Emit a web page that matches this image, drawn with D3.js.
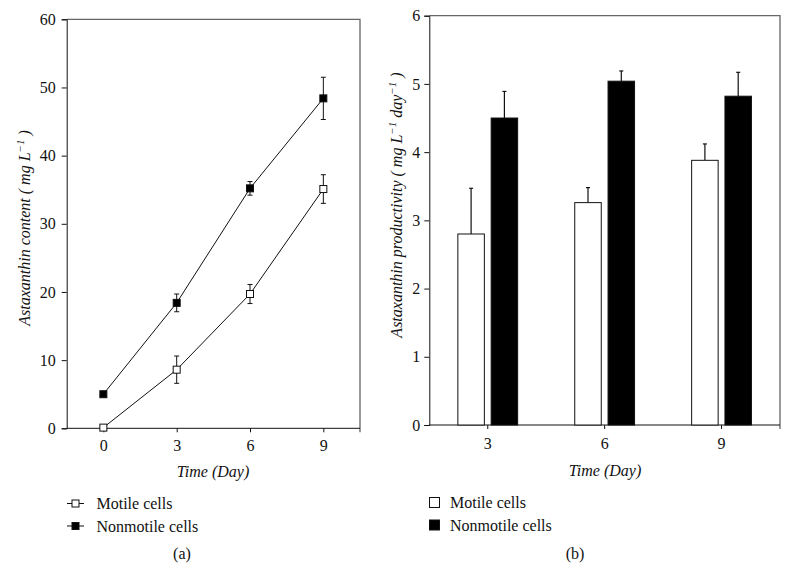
<!DOCTYPE html>
<html><head><meta charset="utf-8">
<script src="https://cdn.jsdelivr.net/npm/d3@7"></script>
<style>body{margin:0;background:#fff}svg{display:block}text{font-family:"Liberation Serif","Times New Roman",serif;fill:#111}</style>
</head><body>
<svg id="c" width="791" height="586"></svg>
<script>
// Panel (a) data
const daysA = [0, 3, 6, 9];
const motileContent = [0.1, 8.6, 19.7, 35.1];
const motileContentErr = [0.2, 2.0, 1.4, 2.1];
const nonmotileContent = [5.0, 18.4, 35.2, 48.4];
const nonmotileContentErr = [0.2, 1.3, 1.0, 3.1];
const yTicksA = [0, 10, 20, 30, 40, 50, 60];
// Panel (b) data
const daysB = ["3", "6", "9"];
const motileProd = [2.80, 3.26, 3.88];
const motileProdErr = [0.67, 0.22, 0.24];
const nonmotileProd = [4.50, 5.04, 4.82];
const nonmotileProdErr = [0.39, 0.15, 0.35];
const yTicksB = [0, 1, 2, 3, 4, 5, 6];
const seriesNames = ["Motile cells", "Nonmotile cells"];

const svg = d3.select("#c");
const FS = 16;

function yTitle(g, x, y, main, parts) {
  const t = g.append("text").attr("transform", `translate(${x},${y}) rotate(-90)`)
    .attr("text-anchor", "middle").attr("font-style", "italic").attr("font-size", FS);
  t.append("tspan").text(main);
  parts.forEach(p => {
    const s = t.append("tspan").text(p.t);
    if (p.sup) s.attr("font-size", 11).attr("dy", -6); else if (p.dn) s.attr("dy", 6);
  });
}
function styleAxis(a) {
  a.attr("font-family", null).attr("font-size", null);
  a.selectAll("text").attr("font-size", FS).attr("fill", "#111");
  a.selectAll("path,line").attr("stroke", "#111");
}

// ---------- Panel (a) ----------
{
  const L = 66.7, R = 360, T = 19.3, B = 428.3;
  const x = d3.scaleLinear().domain([-1.5, 10.5]).range([L, R]);
  const y = d3.scaleLinear().domain([0, 60]).range([B, T]);
  const g = svg.append("g");
  g.append("path").attr("d", `M${L},${T}H${R}V${B + 4}`).attr("fill", "none").attr("stroke", "#666").attr("stroke-width", 1.3);
  const ya = g.append("g").attr("transform", `translate(${L},0)`)
    .call(d3.axisLeft(y).tickValues(yTicksA).tickFormat(d3.format("d")).tickSize(5).tickPadding(6));
  const xa = g.append("g").attr("transform", `translate(0,${B})`)
    .call(d3.axisBottom(x).tickValues(daysA).tickFormat(d3.format("d")).tickSize(4).tickPadding(7));
  styleAxis(ya); styleAxis(xa);
  xa.select(".domain").attr("d", `M${L},0H${R}`);

  const series = [
    {v: motileContent, e: motileContentErr, fill: "#fff"},
    {v: nonmotileContent, e: nonmotileContentErr, fill: "#000"}
  ];
  const line = d3.line().x((d, i) => x(daysA[i])).y(d => y(d));
  series.forEach(s => {
    g.append("path").attr("d", line(s.v)).attr("fill", "none").attr("stroke", "#111").attr("stroke-width", 1);
    s.v.forEach((v, i) => {
      const cx = x(daysA[i]);
      if (s.e[i] > 0.5) {
        g.append("line").attr("x1", cx).attr("x2", cx).attr("y1", y(v + s.e[i])).attr("y2", y(v - s.e[i])).attr("stroke", "#111");
        [v + s.e[i], v - s.e[i]].forEach(w => g.append("line").attr("x1", cx - 2.5).attr("x2", cx + 2.5).attr("y1", y(w)).attr("y2", y(w)).attr("stroke", "#111"));
      }
      g.append("rect").attr("x", cx - 3.5).attr("y", y(v) - 3.5).attr("width", 7).attr("height", 7)
        .attr("fill", s.fill).attr("stroke", "#111").attr("stroke-width", 1);
    });
  });
  yTitle(g, 29.5, 228, "Astaxanthin content ( mg L", [{t: "−1", sup: true}, {t: " )", dn: true}]);
  g.append("text").attr("x", 213).attr("y", 477).attr("text-anchor", "middle").attr("font-style", "italic").attr("font-size", FS).text("Time (Day)");
  seriesNames.forEach((n, i) => {
    const ly = 503.5 + i * 22.5;
    g.append("line").attr("x1", 67).attr("x2", 84).attr("y1", ly).attr("y2", ly).attr("stroke", "#111");
    g.append("rect").attr("x", 72).attr("y", ly - 3.5).attr("width", 7).attr("height", 7).attr("fill", series[i].fill).attr("stroke", "#111");
    g.append("text").attr("x", 96.5).attr("y", ly + 5.5).attr("font-size", FS).text(n);
  });
  g.append("text").attr("x", 182).attr("y", 558.5).attr("text-anchor", "middle").attr("font-size", FS).text("(a)");
}

// ---------- Panel (b) ----------
{
  const L = 429.3, R = 780, T = 15.7, B = 425;
  const x = d3.scaleBand().domain(daysB).range([L, R]).padding(0);
  const y = d3.scaleLinear().domain([0, 6]).range([B, T]);
  const g = svg.append("g");
  g.append("path").attr("d", `M${L},${T}H${R}V${B + 4}`).attr("fill", "none").attr("stroke", "#666").attr("stroke-width", 1.3);
  const ya = g.append("g").attr("transform", `translate(${L},0)`)
    .call(d3.axisLeft(y).tickValues(yTicksB).tickFormat(d3.format("d")).tickSize(5).tickPadding(4));
  const xa = g.append("g").attr("transform", `translate(0,${B})`)
    .call(d3.axisBottom(x).tickSize(4).tickPadding(9));
  styleAxis(ya); styleAxis(xa);
  xa.select(".domain").attr("d", `M${L},0H${R}`);
  const bw = 26.5, gap = 3.4;
  const groups = [
    {v: motileProd, e: motileProdErr, fill: "#fff", off: -gap - bw},
    {v: nonmotileProd, e: nonmotileProdErr, fill: "#000", off: gap}
  ];
  groups.forEach(s => {
    daysB.forEach((d, i) => {
      const bx = x(d) + x.bandwidth() / 2 + s.off;
      const v = s.v[i], cx = bx + bw / 2;
      g.append("line").attr("x1", cx).attr("x2", cx).attr("y1", y(v)).attr("y2", y(v + s.e[i])).attr("stroke", "#111").attr("stroke-width", 1.2);
      g.append("line").attr("x1", cx - 2).attr("x2", cx + 2).attr("y1", y(v + s.e[i])).attr("y2", y(v + s.e[i])).attr("stroke", "#111").attr("stroke-width", 1.2);
      g.append("rect").attr("x", bx).attr("y", y(v)).attr("width", bw).attr("height", y(0) - y(v))
        .attr("fill", s.fill).attr("stroke", "#111").attr("stroke-width", 1);
    });
  });
  yTitle(g, 402, 205, "Astaxanthin productivity ( mg L", [{t: "−1", sup: true}, {t: "  day", dn: true}, {t: "−1", sup: true}, {t: " )", dn: true}]);
  g.append("text").attr("x", 605).attr("y", 476).attr("text-anchor", "middle").attr("font-style", "italic").attr("font-size", FS).text("Time (Day)");
  seriesNames.forEach((n, i) => {
    const ly = 502.5 + i * 22.5;
    g.append("rect").attr("x", 429.5).attr("y", ly - 5).attr("width", 10).attr("height", 10).attr("fill", groups[i].fill).attr("stroke", "#111");
    g.append("text").attr("x", 450).attr("y", ly + 5.5).attr("font-size", FS).text(n);
  });
  g.append("text").attr("x", 575).attr("y", 558.5).attr("text-anchor", "middle").attr("font-size", FS).text("(b)");
}
</script>
</body></html>
